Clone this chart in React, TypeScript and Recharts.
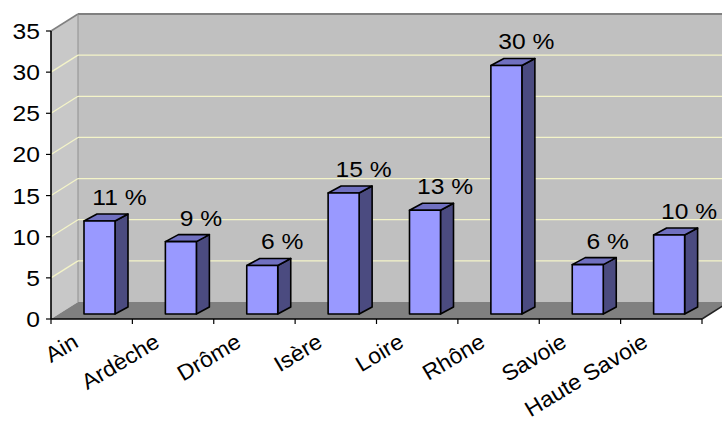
import React from 'react';
import { BarChart, Bar, XAxis, YAxis, ReferenceArea, ReferenceLine, LabelList } from 'recharts';

const departements = ['Ain', 'Ardèche', 'Drôme', 'Isère', 'Loire', 'Rhône', 'Savoie', 'Haute Savoie'];
const parts = [11.3, 8.8, 5.9, 14.7, 12.6, 30.2, 6.0, 9.6];
const partLabels = ['11 %', '9 %', '6 %', '15 %', '13 %', '30 %', '6 %', '10 %'];
const yTicks = [0, 5, 10, 15, 20, 25, 30, 35];
const gridValues = [5, 10, 15, 20, 25, 30];

const data = departements.map((name, i) => ({ name, value: parts[i], label: partLabels[i] }));

const FONT = '"Liberation Sans", Arial, Helvetica, sans-serif';
const FONT_SIZE = 22;
const WALL_DX = 27;
const WALL_DY = 17;
const BAR_DX = 13;
const BAR_DY = 7;
const BAR_SHIFT_X = 8;
const BAR_SHIFT_Y = 5;
const STRETCH = 1.12;
const X_STRETCH = 1.05;

const Walls = (props: any) => {
  const { x, y, width, height } = props;
  const bx = x + WALL_DX;
  const by = y - WALL_DY;
  const bottom = y + height;
  return (
    <g>
      <polygon points={`${x},${bottom} ${x},${y} ${bx},${by} ${bx},${by + height}`} fill="#c8c8c8" />
      <rect x={bx} y={by} width={width} height={height} fill="#c0c0c0" />
      <polygon
        points={`${x},${bottom} ${bx},${by + height} ${bx + width},${by + height} ${x + width},${bottom}`}
        fill="#808080"
      />
      <line x1={x} y1={y} x2={bx} y2={by} stroke="#808080" strokeWidth={1.5} />
      <line x1={bx} y1={by} x2={bx + width} y2={by} stroke="#808080" strokeWidth={2} />
      <line x1={bx} y1={by} x2={bx} y2={by + height} stroke="#909090" strokeWidth={1} />
      <line x1={x + width} y1={bottom} x2={bx + width} y2={by + height} stroke="#222" strokeWidth={1.5} />
    </g>
  );
};

const GridLine3D = (props: any) => {
  const { x1, y1, x2 } = props;
  return (
    <g>
      <line x1={x1} y1={y1} x2={x1 + WALL_DX} y2={y1 - WALL_DY} stroke="#f4f4c8" strokeWidth={1.3} />
      <line x1={x1 + WALL_DX} y1={y1 - WALL_DY} x2={x2 + WALL_DX} y2={y1 - WALL_DY} stroke="#f4f4c8" strokeWidth={1.3} />
    </g>
  );
};

const Bar3D = (props: any) => {
  const { x, y, width, height } = props;
  if (!height || height <= 0) return null;
  const fx = x + BAR_SHIFT_X;
  const fy = y - BAR_SHIFT_Y;
  const w = width;
  const h = height;
  return (
    <g stroke="#000" strokeWidth={1.6} strokeLinejoin="round">
      <polygon
        points={`${fx + w},${fy} ${fx + w + BAR_DX},${fy - BAR_DY} ${fx + w + BAR_DX},${fy + h - BAR_DY} ${fx + w},${fy + h}`}
        fill="#4b4b80"
      />
      <polygon
        points={`${fx},${fy} ${fx + BAR_DX},${fy - BAR_DY} ${fx + w + BAR_DX},${fy - BAR_DY} ${fx + w},${fy}`}
        fill="#7070c0"
      />
      <rect x={fx} y={fy} width={w} height={h} fill="#9999ff" />
    </g>
  );
};

const BarLabel = (props: any) => {
  const vb = props.viewBox || {};
  const x = typeof props.x === 'number' ? props.x : vb.x;
  const y = typeof props.y === 'number' ? props.y : vb.y;
  const width = typeof props.width === 'number' ? props.width : vb.width;
  if (typeof x !== 'number' || typeof y !== 'number') return null;
  const cx = x + width / 2 + 28;
  const by = y - 21;
  return (
    <text
      transform={`translate(${cx},${by}) scale(${STRETCH},1)`}
      textAnchor="middle"
      fontSize={FONT_SIZE}
      fontFamily={FONT}
      fill="#000"
    >
      {props.value}
    </text>
  );
};

const XTick = (props: any) => {
  const { x, y, payload, index, visibleTicksCount } = props;
  const half = payload && typeof payload.offset === 'number' && payload.offset > 0 ? payload.offset : 40.69;
  const count = visibleTicksCount ?? departements.length;
  const last = index === count - 1;
  return (
    <g>
      <line x1={x - half} y1={y} x2={x - half} y2={y + 5} stroke="#000" strokeWidth={1.2} />
      {last && <line x1={x + half} y1={y} x2={x + half} y2={y + 5} stroke="#000" strokeWidth={1.2} />}
      <text
        transform={`translate(${x - 12},${y + 27}) rotate(-31) scale(${X_STRETCH},1)`}
        textAnchor="end"
        fontSize={FONT_SIZE}
        fontFamily={FONT}
        fill="#000"
      >
        {payload.value}
      </text>
    </g>
  );
};

const YTick = (props: any) => {
  const { x, y, payload } = props;
  return (
    <text
      transform={`translate(${x},${y}) scale(${STRETCH},1)`}
      textAnchor="end"
      dy="0.36em"
      fontSize={FONT_SIZE}
      fontFamily={FONT}
      fill="#000"
    >
      {payload.value}
    </text>
  );
};

export default function App() {
  return (
    <div style={{ position: 'absolute', left: 0, top: 0, width: 722, height: 422, background: '#fff' }}>
      <BarChart width={722} height={422} data={data} margin={{ top: 31, right: 20, bottom: 0, left: 0 }}>
        <ReferenceArea y1={0} y2={35} shape={Walls} zIndex={-20} ifOverflow="visible" />
        {gridValues.map((v) => (
          <ReferenceLine key={v} y={v} shape={GridLine3D} zIndex={-10} ifOverflow="visible" />
        ))}
        <XAxis
          dataKey="name"
          height={103}
          tickSize={0}
          tickMargin={0}
          tickLine={false}
          interval={0}
          axisLine={{ stroke: '#000', strokeWidth: 1.6 }}
          tick={XTick}
        />
        <YAxis
          width={51}
          domain={[0, 35]}
          ticks={yTicks}
          interval={0}
          tickSize={5}
          tickMargin={6}
          axisLine={{ stroke: '#000', strokeWidth: 1.6 }}
          tickLine={{ stroke: '#000', strokeWidth: 1.2 }}
          tick={YTick}
        />
        <Bar dataKey="value" barSize={31} shape={Bar3D} isAnimationActive={false}>
          <LabelList dataKey="label" content={BarLabel} />
        </Bar>
      </BarChart>
    </div>
  );
}
